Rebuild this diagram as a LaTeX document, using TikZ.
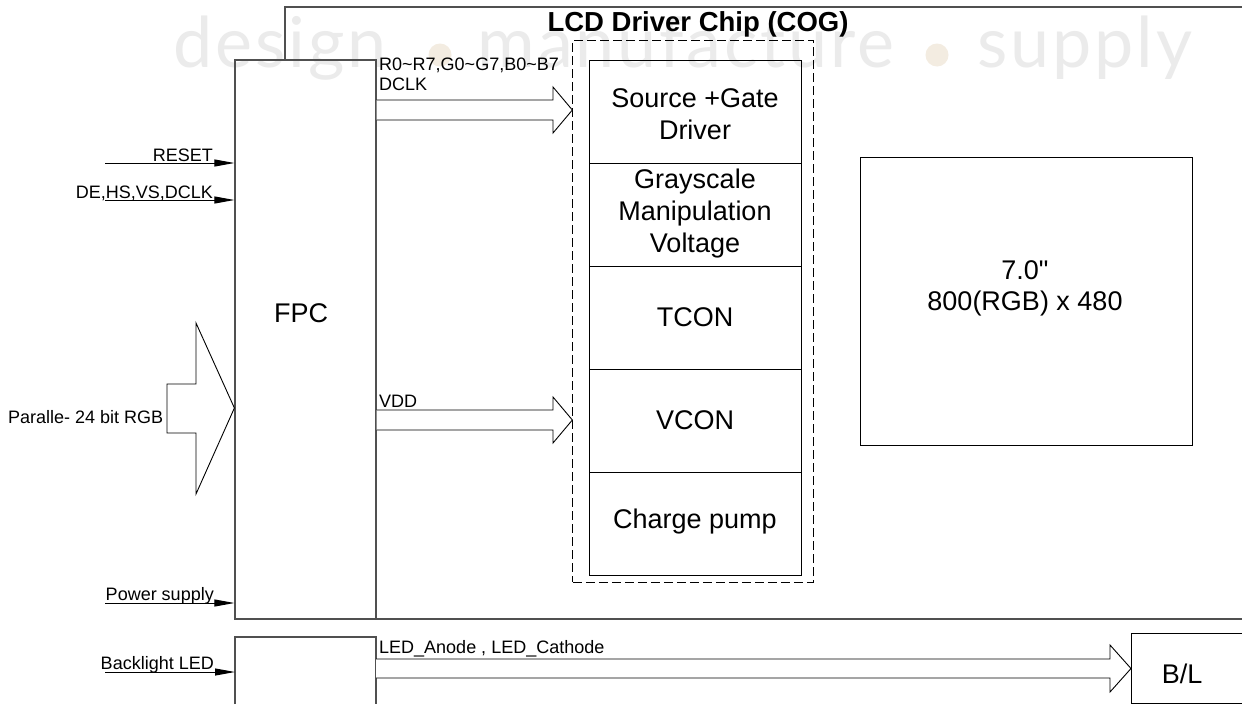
\documentclass[tikz,border=0pt]{standalone}
\usepackage{fontspec}
\setmainfont{Liberation Sans}
\newfontfamily\quotefont{Liberation Sans}[Ligatures=TeXOff]
\newfontfamily\wmfont[LetterSpace=4]{Lato}
\usetikzlibrary{arrows.meta}
\definecolor{wmgray}{HTML}{EBEBEB}
\definecolor{wmdot}{HTML}{F3ECE1}
\definecolor{lngray}{HTML}{505050}
\tikzset{
  big/.style={font=\fontsize{27}{32}\selectfont, align=center, inner sep=0pt},
  small/.style={font=\fontsize{18}{21}\selectfont, inner sep=0pt},
  boxline/.style={draw=black, line width=1pt},
  outline/.style={draw=lngray, line width=1.2pt},
  sig/.style={draw=black, line width=1pt, -{Triangle[length=20pt,width=7pt]}},
  hollow/.style={draw=black, line width=0.9pt, fill=white, line join=miter},
  wm/.style={font=\wmfont\fontsize{70}{74}\selectfont, text=wmgray, inner sep=0pt, anchor=base}
}
\begin{document}
\begin{tikzpicture}[x=1pt,y=-1pt]
\useasboundingbox (0,0) rectangle (1242,704);
\fill[white] (0,0) rectangle (1242,704);
% watermark
\node[wm] (wm1) at (280,67) {design};
\fill[wmdot] (440,55) circle (11.5);
\node[wm] (wm2) at (686,67) {manufacture};
\fill[wmdot] (937,55) circle (11.5);
\node[wm] (wm3) at (1085,67) {supply};
% panel outline
\draw[outline] (235,619) -- (1242,619);
\draw[outline] (285,60) -- (285,7) -- (1242,7);
% FPC boxes
\node[outline, minimum width=141pt, minimum height=559pt, inner sep=0pt] (fpc) at (305.5,339.5) {};
\node[big] (fpclbl) at (301,313) {FPC};
\draw[outline] (235,704) -- (235,637) -- (376,637) -- (376,704);
\coordinate (blfpc) at (235,637);
% dashed chip
\node[draw=black, dash pattern=on 9pt off 4pt, line width=0.9pt, minimum width=241pt, minimum height=542pt, inner sep=0pt] (chip) at (693.3,311) {};
\node[font=\bfseries\fontsize{27.5}{30}\selectfont, inner sep=0pt] (title) at (698,24) {LCD Driver Chip (COG)};
% inner column
\node[boxline, minimum width=212pt, minimum height=103pt, inner sep=0pt] (r1) at (695,111.5) {};
\node[boxline, minimum width=212pt, minimum height=103pt, inner sep=0pt] (r2) at (695,214.5) {};
\node[boxline, minimum width=212pt, minimum height=103pt, inner sep=0pt] (r3) at (695,317.5) {};
\node[boxline, minimum width=212pt, minimum height=103pt, inner sep=0pt] (r4) at (695,420.5) {};
\node[boxline, minimum width=212pt, minimum height=103pt, inner sep=0pt] (r5) at (695,523.5) {};
\node[big] (t1) at (695,114) {Source +Gate\\Driver};
\node[big] (t2) at (695,214) {Grayscale\\Manipulation\\Voltage};
\node[big] (t3) at (695,317.5) {TCON};
\node[big] (t4) at (695,420.5) {VCON};
\node[big] (t5) at (695,522) {Charge pump};
% display
\node[boxline, minimum width=332pt, minimum height=288pt, inner sep=0pt] (disp) at (1026.7,301.7) {};
\node[big, font=\fontsize{27}{31}\selectfont] (displbl) at (1025,288) {7.0{\quotefont"}\\800(RGB) x 480};
% B/L box
\draw[boxline] (1242,633) -- (1131,633) -- (1131,703) -- (1242,703);
\coordinate (bl) at (1131,668.5);
\node[big] (bllbl) at (1182,674) {B/L};
% left input signals
\coordinate (s1) at (105,163);
\coordinate (s2) at (105,200);
\coordinate (s3) at (105,603);
\coordinate (s4) at (105,672);
\draw[sig] (s1) -- (s1 -| fpc.west);
\draw[sig] (s2) -- (s2 -| fpc.west);
\draw[sig] (s3) -- (s3 -| fpc.west);
\draw[sig] (s4) -- (s4 -| blfpc);
\node[small, anchor=base east] (l1) at (213,161) {RESET};
\node[small, anchor=base east] (l2) at (213,198) {DE,HS,VS,DCLK};
\node[small, anchor=base east] (l3) at (214,600) {Power supply};
\node[small, anchor=base east] (l4) at (214,669) {Backlight LED};
% big parallel arrow
\draw[hollow] (167,384) -- (196,384) -- (196,323) -- (fpc.west |- 0,408) -- (196,494) -- (196,433) -- (167,433) -- cycle;
\node[small, anchor=base west] (l5) at (8,423) {Paralle- 24 bit RGB};
% data arrow
\draw[hollow] (fpc.east |- 0,100) -- (553,100) -- (553,87) -- (chip.west |- 0,110) -- (553,133) -- (553,120) -- (fpc.east |- 0,120);
\node[small, anchor=base west] (l6) at (379,70) {R0\textasciitilde R7,G0\textasciitilde G7,B0\textasciitilde B7};
\node[small, anchor=base west] (l7) at (379,90) {DCLK};
% VDD arrow
\draw[hollow] (fpc.east |- 0,410) -- (553,410) -- (553,397) -- (chip.west |- 0,420) -- (553,443) -- (553,430) -- (fpc.east |- 0,430);
\node[small, anchor=base west] (l8) at (379,407) {VDD};
% backlight arrow
\draw[hollow] (376,659) -- (1110,659) -- (1110,645) -- (bl) -- (1110,692) -- (1110,678) -- (376,678);
\node[small, anchor=base west] (l9) at (379,653) {LED\_Anode , LED\_Cathode};
\end{tikzpicture}
\end{document}
